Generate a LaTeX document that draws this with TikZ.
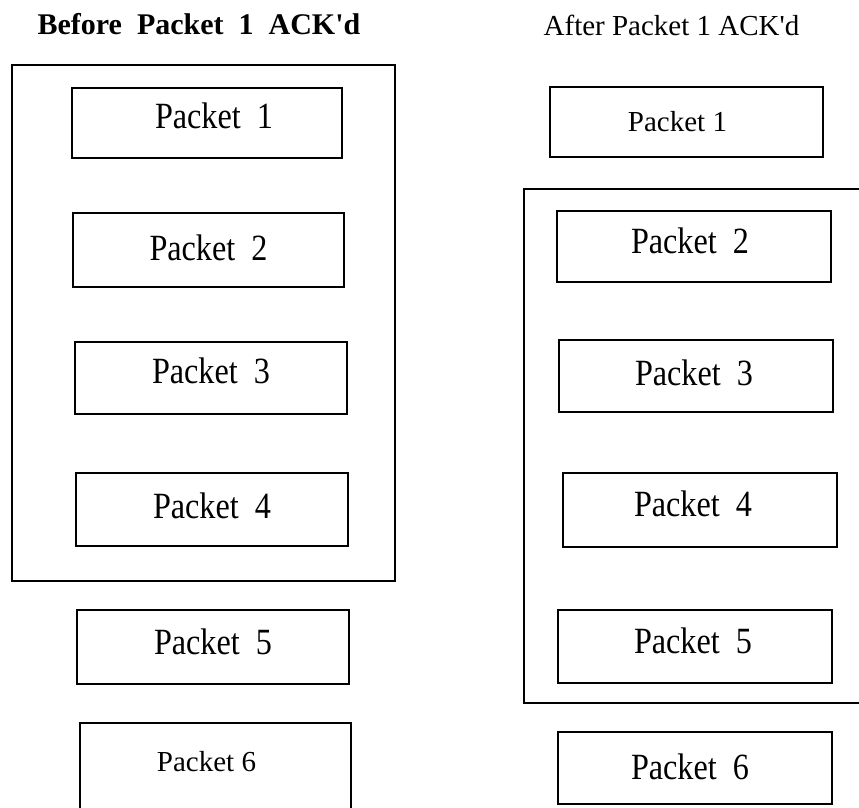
\documentclass[tikz,border=0pt]{standalone}
\usepackage{fontspec}
\setmainfont{Liberation Serif}
% plain family: straight apostrophe kept as typed
\newfontfamily\plainserif{Liberation Serif}
% slightly condensed face for the packet labels
\newfontfamily\narrowserif[FakeStretch=0.87]{Liberation Serif}
\begin{document}
\begin{tikzpicture}[x=1pt,y=-1pt,
  frame/.style={draw=black,line width=1.7pt,inner sep=0pt},
  pkt/.style={frame,minimum height=72pt,minimum width=272pt},
  pkttext/.style={inner sep=0pt,font=\narrowserif\fontsize{37}{42}\selectfont},
  pktlight/.style={inner sep=0pt,font=\plainserif\fontsize{29}{34}\selectfont},
  title/.style={anchor=base,inner sep=0pt}]
\useasboundingbox (0,0) rectangle (859,808);
\clip (0,0) rectangle (859,808);

% window before the acknowledgement
\node[title,font=\plainserif\bfseries\fontsize{30}{36}\selectfont] (tl) at (199,35) {Before\ \ Packet\ \ 1\ \ ACK'd};
\node[frame,minimum width=383pt,minimum height=516pt] (wl) at (203.5,323) {};
\node[pkt,minimum width=270pt,minimum height=70pt] (l1) at (207,123) {};
\node[pkt,minimum width=271pt,minimum height=74pt] (l2) at (208.5,250) {};
\node[pkt] (l3) at (211,378) {};
\node[pkt,minimum height=73pt] (l4) at (212,509.5) {};
\node[pkt,minimum height=74pt] (l5) at (213,647) {};
\node[frame,minimum width=271pt,minimum height=110pt,anchor=north] (l6) at (215.5,722) {};
\node[pkttext] (l1t) at ([xshift=7pt,yshift=7.5pt]l1.center) {Packet\ \ 1};
\node[pkttext] (l2t) at ([yshift=2pt]l2.center) {Packet\ \ 2};
\node[pkttext] (l3t) at ([yshift=7.5pt]l3.center) {Packet\ \ 3};
\node[pkttext] (l4t) at ([yshift=3.5pt]l4.center) {Packet\ \ 4};
\node[pkttext] (l5t) at ([yshift=5.5pt]l5.center) {Packet\ \ 5};
\node[pktlight] (l6t) at ([xshift=-9pt,yshift=-40pt]l6.north) {Packet 6};

% window after the acknowledgement
\node[title,font=\plainserif\fontsize{29}{34}\selectfont] (tr) at (671.5,36) {After Packet 1 ACK'd};
\draw[line width=1.7pt] (880,189) -| (524,703) -- (880,703);
\node[pkt,minimum width=273pt,minimum height=70pt] (r1) at (686.5,122) {};
\node[pkt,minimum width=274pt,minimum height=71pt] (r2) at (694,246.5) {};
\node[pkt,minimum width=274pt] (r3) at (696,376) {};
\node[pkt,minimum width=274pt,minimum height=74pt] (r4) at (700,510) {};
\node[pkt,minimum width=274pt,minimum height=73pt] (r5) at (695,646.5) {};
\node[pkt,minimum width=274pt] (r6) at (695,768) {};
\node[pktlight] (r1t) at ([xshift=-9pt]r1.center) {Packet 1};
\node[pkttext] (r2t) at ([xshift=-4pt,yshift=6pt]r2.center) {Packet\ \ 2};
\node[pkttext] (r3t) at ([xshift=-2pt,yshift=3.5pt]r3.center) {Packet\ \ 3};
\node[pkttext] (r4t) at ([xshift=-7pt,yshift=6pt]r4.center) {Packet\ \ 4};
\node[pkttext] (r5t) at ([xshift=-2pt,yshift=6pt]r5.center) {Packet\ \ 5};
\node[pkttext] (r6t) at ([xshift=-5pt,yshift=1.5pt]r6.center) {Packet\ \ 6};
\end{tikzpicture}
\end{document}
